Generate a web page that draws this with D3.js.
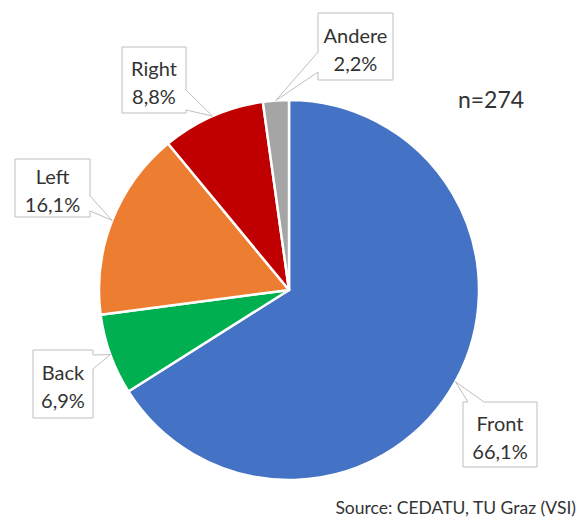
<!DOCTYPE html>
<html>
<head>
<meta charset="utf-8">
<script src="https://cdn.jsdelivr.net/npm/d3@7"></script>
<style>
  html, body { margin: 0; padding: 0; background: #fff; }
  svg { display: block; }
  text { font-family: Lato, "Open Sans", sans-serif; fill: #333; }
</style>
</head>
<body>
<svg id="chart" width="581" height="521"></svg>
<script>
// Crash direction shares (percent)
const categories = ["Front", "Back", "Left", "Right", "Andere"];
const shares = [66.1, 6.9, 16.1, 8.8, 2.2];
const colors = ["#4472C4", "#00B050", "#ED7D31", "#C00000", "#A5A5A5"];
const sampleLabel = "n=274";
const sourceLabel = "Source: CEDATU, TU Graz (VSI)";

const svg = d3.select("#chart");
const cx = 289, cy = 290, radius = 190;

const pie = d3.pie().sort(null).value(d => d.value).startAngle(0).endAngle(2 * Math.PI);
const slices = pie(categories.map((c, i) => ({ name: c, value: shares[i], color: colors[i] })));

const arc = d3.arc().innerRadius(0).outerRadius(radius);
const rim = d3.arc().innerRadius(radius).outerRadius(radius);

const g = svg.append("g").attr("transform", `translate(${cx},${cy})`);
g.selectAll("path.slice")
  .data(slices)
  .join("path")
  .attr("class", "slice")
  .attr("d", arc)
  .attr("fill", d => d.data.color)
  .attr("stroke", "#fff")
  .attr("stroke-width", 2.5)
  .attr("stroke-linejoin", "round");

// Callout boxes: box edges, side carrying the pointer and its span along that side
const callouts = {
  Andere: { x0: 318, y0: 13, x1: 393, y1: 80, side: "left", a0: 52, a1: 72 },
  Right:  { x0: 122, y0: 47, x1: 186, y1: 113, side: "right", a0: 90, a1: 110 },
  Left:   { x0: 15, y0: 159, x1: 90, y1: 217, side: "right", a0: 196, a1: 211 },
  Back:   { x0: 33, y0: 350, x1: 93, y1: 418, side: "right", a0: 355, a1: 369 },
  Front:  { x0: 463, y0: 402, x1: 537, y1: 467, side: "top", a0: 468, a1: 484 }
};

function calloutPath(b, tip) {
  const p = d3.path();
  const { x0, y0, x1, y1, side, a0, a1 } = b;
  p.moveTo(x0, y0);
  if (side === "top") { p.lineTo(a0, y0); p.lineTo(tip[0], tip[1]); p.lineTo(a1, y0); }
  p.lineTo(x1, y0);
  if (side === "right") { p.lineTo(x1, a0); p.lineTo(tip[0], tip[1]); p.lineTo(x1, a1); }
  p.lineTo(x1, y1);
  if (side === "bottom") { p.lineTo(a1, y1); p.lineTo(tip[0], tip[1]); p.lineTo(a0, y1); }
  p.lineTo(x0, y1);
  if (side === "left") { p.lineTo(x0, a1); p.lineTo(tip[0], tip[1]); p.lineTo(x0, a0); }
  p.closePath();
  return p.toString();
}

const fmt = v => d3.format(".1f")(v).replace(".", ",") + "%";

const labels = svg.append("g");
slices.forEach(s => {
  const b = callouts[s.data.name];
  const c = rim.centroid(s);
  const tip = [cx + c[0], cy + c[1]];
  labels.append("path")
    .attr("d", calloutPath(b, tip))
    .attr("fill", "#fff")
    .attr("stroke", "#bfbfbf")
    .attr("stroke-width", 1);
  const mx = (b.x0 + b.x1) / 2, my = (b.y0 + b.y1) / 2;
  const t = labels.append("text")
    .attr("text-anchor", "middle")
    .attr("font-size", 20);
  t.append("tspan").attr("x", mx).attr("y", my - 4).text(s.data.name);
  t.append("tspan").attr("x", mx).attr("y", my + 24).text(fmt(s.data.value));
});

svg.append("text")
  .attr("x", 491).attr("y", 108)
  .attr("text-anchor", "middle")
  .attr("font-size", 23)
  .text(sampleLabel);

svg.append("text")
  .attr("x", 576).attr("y", 514)
  .attr("text-anchor", "end")
  .attr("font-size", 17.5)
  .text(sourceLabel);
</script>
</body>
</html>
